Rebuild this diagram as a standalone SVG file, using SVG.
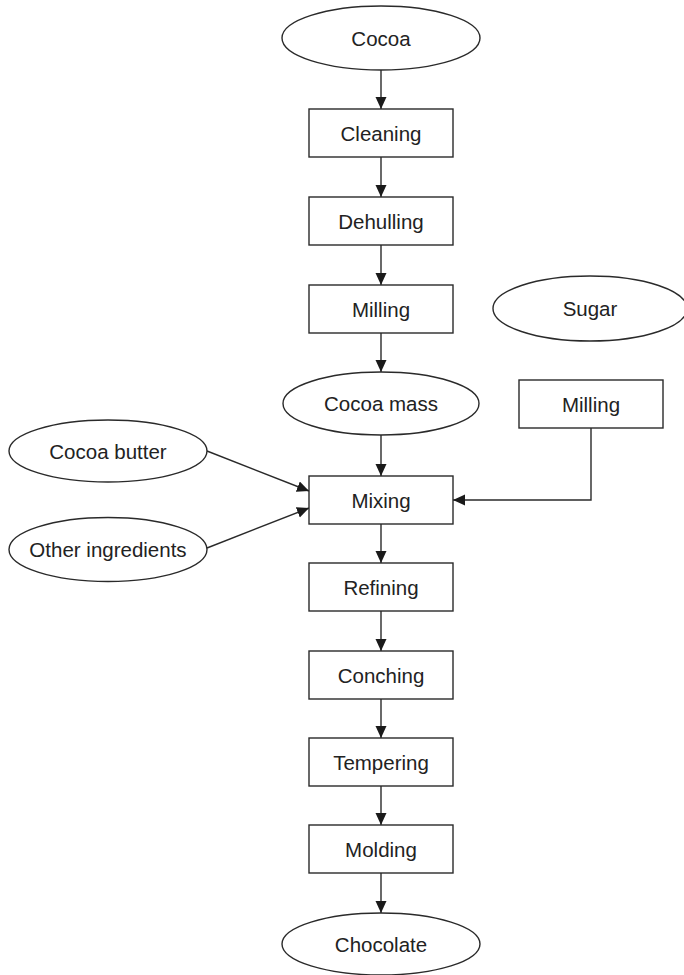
<svg xmlns="http://www.w3.org/2000/svg" width="684" height="975" viewBox="0 0 684 975">
<style>
.shape{fill:#fff;stroke:#2a2a2a;stroke-width:1.4}
.lbl{font-family:"Liberation Sans",Arial,sans-serif;font-size:20.5px;fill:#222;text-anchor:middle}
.edge{fill:none;stroke:#2a2a2a;stroke-width:1.4}
</style>
<defs>
<marker id="arr" markerUnits="userSpaceOnUse" markerWidth="13" markerHeight="12" refX="12" refY="5.5" orient="auto">
<path d="M0,0 L12,5.5 L0,11 z" fill="#1a1a1a"/>
</marker>
</defs>
<rect width="684" height="975" fill="#fff"/>
<g id="connectors">
<line class="edge" x1="381" y1="70" x2="381" y2="109" marker-end="url(#arr)"/>
<line class="edge" x1="381" y1="157" x2="381" y2="197" marker-end="url(#arr)"/>
<line class="edge" x1="381" y1="245" x2="381" y2="285" marker-end="url(#arr)"/>
<line class="edge" x1="381" y1="333" x2="381" y2="372" marker-end="url(#arr)"/>
<line class="edge" x1="381" y1="435" x2="381" y2="476" marker-end="url(#arr)"/>
<line class="edge" x1="381" y1="524" x2="381" y2="563" marker-end="url(#arr)"/>
<line class="edge" x1="381" y1="611" x2="381" y2="651" marker-end="url(#arr)"/>
<line class="edge" x1="381" y1="699" x2="381" y2="738" marker-end="url(#arr)"/>
<line class="edge" x1="381" y1="786" x2="381" y2="825" marker-end="url(#arr)"/>
<line class="edge" x1="381" y1="873" x2="381" y2="913" marker-end="url(#arr)"/>
<line class="edge" x1="207" y1="451" x2="309" y2="491" marker-end="url(#arr)"/>
<line class="edge" x1="207" y1="548" x2="309" y2="508" marker-end="url(#arr)"/>
<polyline class="edge" points="591,428 591,500 453,500" marker-end="url(#arr)"/>
</g>
<g id="cocoa"><ellipse class="shape" cx="381" cy="38" rx="99" ry="32"/><text class="lbl" x="381" y="45.5">Cocoa</text></g>
<g id="cleaning"><rect class="shape" x="309" y="109" width="144" height="48"/><text class="lbl" x="381" y="140.5">Cleaning</text></g>
<g id="dehulling"><rect class="shape" x="309" y="197" width="144" height="48"/><text class="lbl" x="381" y="228.5">Dehulling</text></g>
<g id="milling1"><rect class="shape" x="309" y="285" width="144" height="48"/><text class="lbl" x="381" y="316.5">Milling</text></g>
<g id="cocoa-mass"><ellipse class="shape" cx="381" cy="403.5" rx="98" ry="31.5"/><text class="lbl" x="381" y="411">Cocoa mass</text></g>
<g id="sugar"><ellipse class="shape" cx="590" cy="308.5" rx="97" ry="32.5"/><text class="lbl" x="590" y="316">Sugar</text></g>
<g id="milling2"><rect class="shape" x="519" y="380" width="144" height="48"/><text class="lbl" x="591" y="411.5">Milling</text></g>
<g id="cocoa-butter"><ellipse class="shape" cx="108" cy="451" rx="99" ry="31"/><text class="lbl" x="108" y="458.5">Cocoa butter</text></g>
<g id="other-ingredients"><ellipse class="shape" cx="108" cy="549.5" rx="99" ry="32"/><text class="lbl" x="108" y="557">Other ingredients</text></g>
<g id="mixing"><rect class="shape" x="309" y="476" width="144" height="48"/><text class="lbl" x="381" y="507.5">Mixing</text></g>
<g id="refining"><rect class="shape" x="309" y="563" width="144" height="48"/><text class="lbl" x="381" y="594.5">Refining</text></g>
<g id="conching"><rect class="shape" x="309" y="651" width="144" height="48"/><text class="lbl" x="381" y="682.5">Conching</text></g>
<g id="tempering"><rect class="shape" x="309" y="738" width="144" height="48"/><text class="lbl" x="381" y="769.5">Tempering</text></g>
<g id="molding"><rect class="shape" x="309" y="825" width="144" height="48"/><text class="lbl" x="381" y="856.5">Molding</text></g>
<g id="chocolate"><ellipse class="shape" cx="381" cy="944" rx="99" ry="31"/><text class="lbl" x="381" y="951.5">Chocolate</text></g>
</svg>
